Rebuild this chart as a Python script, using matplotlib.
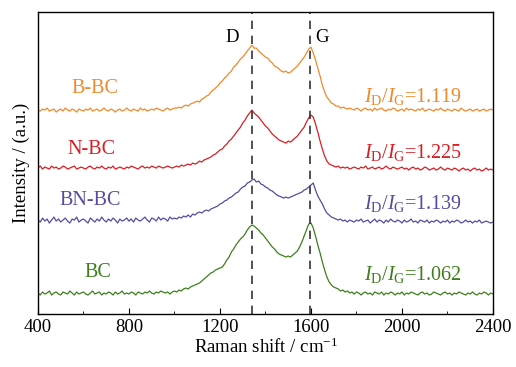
import numpy as np
import matplotlib
matplotlib.use('Agg')
import matplotlib.pyplot as plt
from matplotlib.ticker import MultipleLocator

plt.rcParams['font.family'] = ['Liberation Serif', 'DejaVu Serif']
plt.rcParams['mathtext.fontset'] = 'custom'
plt.rcParams['mathtext.rm'] = 'Liberation Serif'
plt.rcParams['mathtext.it'] = 'Liberation Serif:italic'

# Raman shift grid (cm-1), 10 cm-1 step
shift = np.arange(400, 2401, 10)

# 读图估计的强度 (a.u.，已含偏移)
b_bc = [204, 203, 205, 204, 206, 203, 204, 205, 202, 204, 205, 203, 206, 204, 203, 205, 204, 202, 205, 204,
        203, 205, 204, 206, 203, 204, 205, 203, 204, 206, 204, 203, 205, 204, 202, 204, 205, 203, 204, 206,
        204, 203, 205, 204, 203, 206, 204, 205, 203, 204, 205, 204, 206, 205, 204, 203, 205, 206, 204, 205,
        206,
        206, 207, 206, 208, 209, 208, 210, 211, 212, 213,
        212, 215, 216, 218, 219, 222, 224, 226, 228, 231,
        233, 236, 238, 241, 243, 247, 249, 252, 255, 257,
        260, 263, 266, 269, 266, 266, 263, 261, 259, 257,
        256, 253, 251, 248, 247, 245, 243, 242, 243, 241,
        242, 244, 246, 248, 251, 254, 257, 261, 265, 267,
        261, 254, 246, 238, 229, 222, 217, 214, 211, 210,
        208, 208, 206, 207, 206, 205, 206, 205,
        204, 206, 205, 203, 205, 206, 204, 205, 203, 206, 204, 205, 206, 204, 203, 205, 204, 206, 205, 203,
        204, 205, 203, 206, 204, 205, 204, 203, 205, 204, 206, 203, 204, 205, 204, 203, 205, 204, 206, 204,
        203, 205, 204, 203, 205, 204, 203, 206, 204, 203, 204, 205, 203, 204, 205, 203, 204, 205, 203, 204,
        205, 204]

n_bc = [146, 148, 145, 147, 146, 145, 148, 146, 147, 145, 146, 148, 147, 145, 146, 147, 148, 145, 146, 147,
        146, 145, 147, 148, 146, 145, 147, 146, 148, 146, 145, 147, 146, 148, 145, 146, 147, 146, 145, 147,
        146, 148, 147, 146, 145, 147, 148, 146, 147, 146, 148, 147, 146, 148, 147, 146, 147, 148, 147, 146,
        147,
        148, 147, 149, 148, 149, 150, 149, 151, 150, 151,
        153, 152, 154, 155, 156, 157, 159, 160, 162, 164,
        165, 168, 170, 173, 175, 178, 181, 184, 187, 191,
        194, 198, 201, 204, 201, 199, 197, 194, 191, 188,
        186, 183, 180, 178, 176, 174, 173, 172, 171, 173,
        172, 174, 176, 178, 181, 184, 187, 192, 196, 199,
        197, 190, 182, 173, 165, 158, 153, 150, 149, 148,
        147, 148, 146, 147, 146, 147, 145, 146,
        147, 146, 145, 147, 146, 148, 145, 146, 147, 145, 146, 147, 145, 146, 148, 146, 145, 147, 146, 145,
        146, 147, 145, 146, 144, 146, 147, 145, 146, 144, 145, 147, 146, 144, 145, 146, 144, 145, 147, 145,
        144, 146, 145, 144, 146, 145, 143, 145, 146, 144, 145, 143, 145, 146, 144, 145, 143, 144, 146, 144,
        145, 144]

bn_bc = [94, 92, 96, 93, 95, 91, 94, 97, 93, 95, 92, 94, 96, 93, 91, 95, 94, 97, 92, 94,
         95, 93, 91, 96, 94, 92, 95, 93, 97, 94, 92, 95, 93, 96, 94, 91, 95, 93, 94, 96,
         93, 95, 92, 96, 94, 93, 95, 97, 94, 92, 96, 95, 93, 97, 94, 96, 95, 93, 97, 95,
         96,
         95, 97, 96, 98, 97, 99, 97, 100, 99, 101,
         102, 101, 103, 104, 103, 105, 106, 107, 108, 110,
         111, 113, 114, 116, 117, 119, 121, 122, 125, 127,
         128, 131, 132, 134, 135, 132, 133, 130, 129, 127,
         126, 124, 123, 121, 119, 118, 117, 116, 117, 116,
         117, 118, 119, 120, 121, 122, 124, 125, 127, 129,
         131, 124, 118, 114, 110, 105, 101, 99, 97, 96,
         95, 94, 95, 93, 94, 92, 94, 93,
         92, 94, 93, 95, 92, 93, 94, 91, 93, 95, 92, 94, 93, 91, 94, 92, 95, 93, 92, 94,
         93, 91, 94, 92, 93, 95, 92, 93, 91, 94, 93, 92, 94, 91, 93, 92, 94, 93, 91, 93,
         92, 94, 91, 93, 92, 94, 93, 91, 92, 94, 92, 93, 91, 93, 92, 94, 91, 92, 93, 92,
         91, 92]

bc = [21, 19, 22, 20, 21, 23, 19, 21, 22, 20, 19, 22, 21, 20, 23, 21, 19, 22, 20, 21,
      22, 20, 19, 21, 23, 20, 21, 22, 19, 21, 20, 22, 21, 19, 22, 20, 21, 23, 20, 21,
      20, 22, 21, 19, 22, 21, 20, 22, 21, 23, 21, 20, 22, 21, 23, 22, 21, 22, 20, 22,
      23,
      22, 24, 23, 25, 26, 25, 27, 28, 29, 30,
      31, 33, 35, 37, 39, 41, 42, 44, 45, 46,
      47, 50, 54, 57, 62, 65, 69, 72, 75, 77,
      80, 84, 87, 89, 88, 86, 84, 81, 79, 76,
      73, 70, 67, 65, 62, 60, 59, 58, 57, 58,
      57, 59, 61, 63, 67, 72, 78, 84, 90, 91,
      86, 78, 69, 61, 52, 44, 37, 32, 29, 27,
      26, 25, 23, 24, 22, 23, 21, 22,
      20, 22, 21, 19, 21, 22, 20, 21, 19, 22, 21, 20, 22, 19, 21, 20, 22, 21, 19, 21,
      20, 22, 19, 21, 20, 22, 21, 20, 19, 21, 22, 20, 21, 19, 20, 22, 21, 20, 19, 21,
      22, 20, 21, 19, 21, 20, 22, 21, 20, 19, 21, 20, 22, 20, 19, 21, 20, 22, 21, 19,
      21, 20]

names = ['B-BC', 'N-BC', 'BN-BC', 'BC']
ratios = ['1.119', '1.225', '1.139', '1.062']
colors = ['#F0892B', '#D81E24', '#5A4A9F', '#3E7F1C']
series = [b_bc, n_bc, bn_bc, bc]
name_pos = [(650, 226), (637, 165), (629, 114), (662, 42)]
ratio_y = [218, 162, 111, 40]
d_band, g_band = 1340, 1595

fig = plt.figure(figsize=(5.16, 3.67), dpi=100)
ax = fig.add_axes([0.0736, 0.1444, 0.8818, 0.8226])

for ys, c in zip(series, colors):
    assert len(ys) == len(shift), len(ys)
    ax.plot(shift, ys, color=c, linewidth=0.9)

for xb in (d_band, g_band):
    ax.axvline(xb, color='#333333', linestyle=(0, (5, 4)), linewidth=1.2)

for name, (xp, yp), r, ry, c in zip(names, name_pos, ratios, ratio_y, colors):
    ax.text(xp, yp, name, color=c, fontsize=14.5, ha='center', va='center')
    ax.text(2265, ry, r'$I_{\mathrm{D}}/I_{\mathrm{G}}$=' + r, color=c, fontsize=14.5,
            ha='right', va='center')

ax.text(1253, 277, 'D', fontsize=13.5, ha='center', va='center')
ax.text(1648, 277, 'G', fontsize=13.5, ha='center', va='center')

ax.set_xlim(400, 2400)
ax.set_ylim(0, 302)
ax.xaxis.set_major_locator(MultipleLocator(400))
ax.xaxis.set_minor_locator(MultipleLocator(200))
ax.tick_params(axis='x', which='both', direction='in', labelsize=13.5)
ax.tick_params(axis='x', which='major', length=4)
ax.tick_params(axis='x', which='minor', length=2.5)
ax.set_yticks([])
ax.set_xlabel('Raman shift / cm$^{-1}$', fontsize=13.5, labelpad=1)
ax.set_ylabel('Intensity / (a.u.)', fontsize=13.5, labelpad=6)
for s in ax.spines.values():
    s.set_linewidth(1.0)

fig.savefig('out.png', dpi=100)
